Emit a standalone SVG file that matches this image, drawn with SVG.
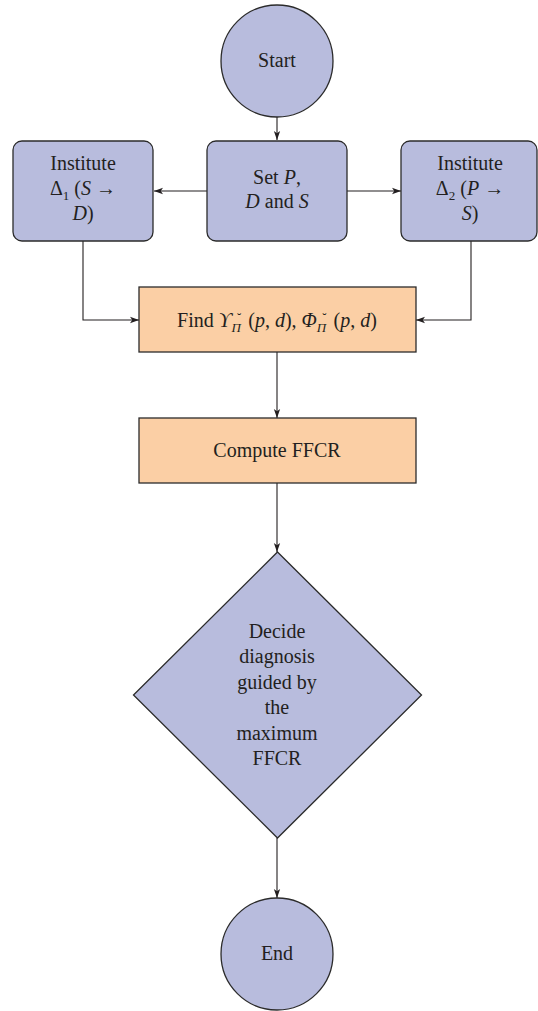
<svg xmlns="http://www.w3.org/2000/svg" width="538" height="1011" viewBox="0 0 538 1011">
<style>
.n{fill:#b8bcdd;stroke:#2b2b2b;stroke-width:1.3}
.o{fill:#fbcfa5;stroke:#2b2b2b;stroke-width:1.3}
text{font-family:"Liberation Serif","DejaVu Serif",serif;font-size:20px;fill:#231f20;text-anchor:middle}
.i{font-style:italic}
.c{fill:none;stroke:#231f20;stroke-width:1.1}
</style>
<defs>
<marker id="ah" viewBox="0 0 10 10" refX="10" refY="5" markerWidth="9" markerHeight="9" markerUnits="userSpaceOnUse" orient="auto">
<path d="M0,1.5 L10,5 L0,8.5 L2.5,5 Z" fill="#231f20"/>
</marker>
</defs>
<g id="connectors">
<path class="c" d="M277,117 V140" marker-end="url(#ah)"/>
<path class="c" d="M207,191 H154" marker-end="url(#ah)"/>
<path class="c" d="M347,191 H401" marker-end="url(#ah)"/>
<path class="c" d="M83,241 V320 H139" marker-end="url(#ah)"/>
<path class="c" d="M471,241 V320 H416" marker-end="url(#ah)"/>
<path class="c" d="M277,352 V418" marker-end="url(#ah)"/>
<path class="c" d="M277,483 V552" marker-end="url(#ah)"/>
<path class="c" d="M277,838 V898" marker-end="url(#ah)"/>
</g>
<g id="start">
<circle class="n" cx="277" cy="61" r="56"/>
<text x="277" y="67">Start</text>
</g>
<g id="institute1">
<rect class="n" x="13" y="141" width="140" height="100" rx="9"/>
<text x="83" y="170">Institute</text>
<text x="83" y="195">Δ<tspan font-size="13" dy="5">1</tspan><tspan dy="-5"> (</tspan><tspan class="i">S</tspan> →</text>
<text x="83" y="220"><tspan class="i">D</tspan>)</text>
</g>
<g id="set">
<rect class="n" x="207" y="141" width="140" height="100" rx="9"/>
<text x="277" y="184">Set <tspan class="i">P</tspan>,</text>
<text x="277" y="208"><tspan class="i">D</tspan> and <tspan class="i">S</tspan></text>
</g>
<g id="institute2">
<rect class="n" x="401" y="141" width="136" height="100" rx="9"/>
<text x="470" y="170">Institute</text>
<text x="470" y="195">Δ<tspan font-size="13" dy="5">2</tspan><tspan dy="-5"> (</tspan><tspan class="i">P</tspan> →</text>
<text x="470" y="220"><tspan class="i">S</tspan>)</text>
</g>
<g id="find">
<rect class="o" x="139" y="287" width="277" height="65"/>
<text x="277" y="327">Find <tspan class="i">ϒ</tspan><tspan class="i" font-size="13" dy="5">Π</tspan><tspan font-size="13" dx="-4" dy="-10">˘</tspan><tspan dx="2" dy="5"> (</tspan><tspan class="i">p</tspan>, <tspan class="i">d</tspan>), <tspan class="i">Φ</tspan><tspan class="i" font-size="13" dy="5">Π</tspan><tspan font-size="13" dx="-4" dy="-10">˘</tspan><tspan dx="2" dy="5"> (</tspan><tspan class="i">p</tspan>, <tspan class="i">d</tspan>)</text>
</g>
<g id="compute">
<rect class="o" x="139" y="418" width="277" height="65"/>
<text x="277" y="457">Compute FFCR</text>
</g>
<g id="decide">
<polygon class="n" points="277.5,552 421.5,695 277.5,838 133.5,695"/>
<text x="277" y="638">Decide</text>
<text x="277" y="663">diagnosis</text>
<text x="277" y="689">guided by</text>
<text x="277" y="714">the</text>
<text x="277" y="740">maximum</text>
<text x="277" y="765">FFCR</text>
</g>
<g id="end">
<circle class="n" cx="277" cy="954" r="56"/>
<text x="277" y="960">End</text>
</g>
</svg>
